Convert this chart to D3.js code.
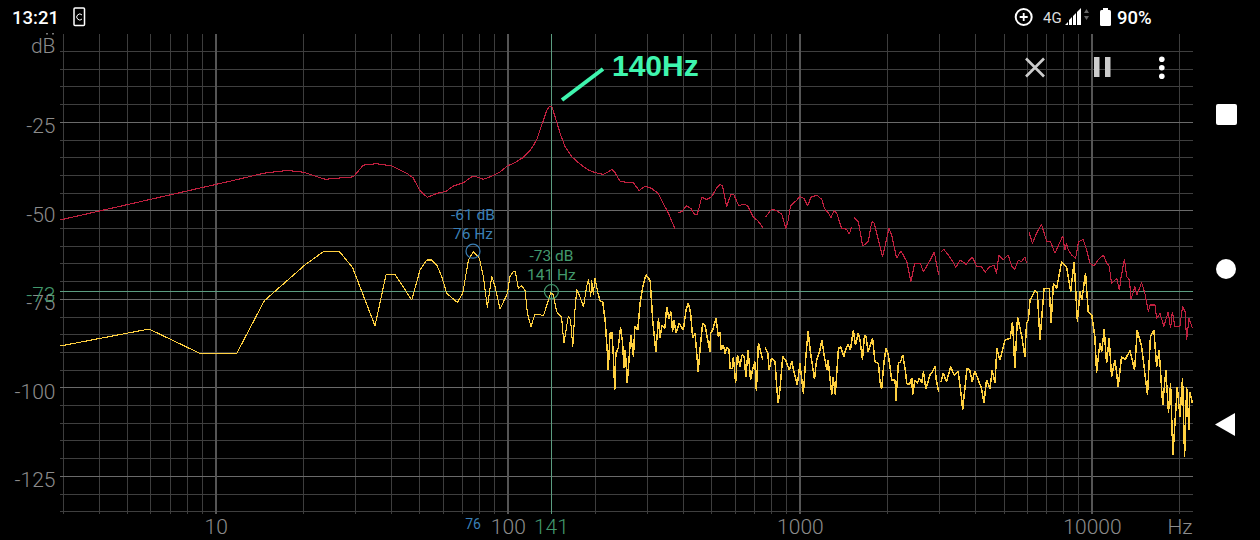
<!DOCTYPE html>
<html><head><meta charset="utf-8">
<script src="https://cdn.jsdelivr.net/npm/d3@7"></script>
<style>
html,body{margin:0;padding:0;background:#000;overflow:hidden}
svg{display:block;font-family:Roboto,sans-serif}
</style></head><body>
<svg id="c" width="1260" height="540"></svg>
<script>
// --- axis values ---
const decadeHz=[10,100,1000,10000];
const minorHz=[3,4,5,6,7,8,9,20,30,40,50,60,70,80,90,200,300,400,500,600,700,800,900,2000,3000,4000,5000,6000,7000,8000,9000,20000];
const majorDb=[-25,-50,-75,-100,-125];
const minorDb=[-5,-10,-15,-20,-30,-35,-40,-45,-55,-60,-65,-70,-80,-85,-90,-95,-105,-110,-115,-120,-130,-135];
const cursorA={hz:76,db:-61.4};
const cursorB={hz:141,db:-72.8};
const annotationText="140Hz";
// --- red trace (null = break in the trace) ---
const redHz=[2.93,12.1,14.56,17.5,20,23.7,29.6,32,35.6,40,45.1,47.4,50.06,53,57.1,61.4,65.1,70.4,75.2,78.2,82.5,88.1,94.1,99.7,105.9,113,119.1,125.6,130.6,135.9,138.7,141.6,144.9,151,157,165.5,176.6,188.8,198.6,212.3,220.8,227,232.8,241.9,255.3,269.2,281.5,295.1,310.6,327.3,340.4,354.8,365.6,373.6,378,
383.7,393.6,409.3,423,437.5,445.7,461.3,479.7,498.9,518.8,532.1,543,561,581,594,618,640,662,691.8,721,750,757,
764,800,832,866,895,912,929,975,1000,1033,1064,1089,1143,1189,1213,1253,1276,1309,1337,1371,1390,1445,1476,1503,1517,
1531,1585,1641,1714,1762,1795,1854,1919,2018,2061,2143,2218,2323,2399,2472,2582,2649,2773,2884,2985,3016,
3048,3112,3221,3311,3420,3532,3707,3890,4027,4188,4305,4436,4613,4710,4797,4966,5164,5309,5445,5598,5741,5888,5970,6025,
6081,6252,6457,6714,7000,7211,7464,7943,8072,8185,8299,8511,8790,8995,9333,9594,9840,10160,10530,10950,11220,11450,11670,12160,12410,12560,12910,13150,13430,13610,14030,14230,14790,15170,15600,15780,16440,16640,17100,17620,18240,18580,18840,19230,20000,20420,20830,21090,21480,22080];
const redDb=[-52.6,-41,-39.4,-38.6,-39.1,-41.1,-40.4,-37.1,-36.7,-37.3,-39.4,-40.7,-44.3,-46.2,-45.1,-44.5,-43,-42.1,-40.4,-40.4,-41.1,-40.2,-39,-37.3,-36.4,-34.9,-33,-30,-25.8,-21.7,-20.6,-20.6,-23.2,-28.1,-31.9,-34.7,-36.8,-38.5,-39.2,-39.7,-39,-38.3,-39.2,-41.6,-42,-42.1,-44.3,-43,-43.7,-45.1,-47.9,-50.7,-53.3,-55,null,
-50.4,-50.3,-48.6,-49.3,-51.2,-50.9,-46.2,-46.8,-46,-43.6,-42.5,-42.9,-48.8,-45.3,-45.5,-48.6,-48.1,-48.5,-51.7,-53,-55,null,
-51.7,-49.5,-50,-50.9,-55,-52.6,-48.6,-47,-46,-46.5,-48.6,-46.2,-45.6,-46.8,-49.3,-50.7,-52,-50,-50.7,-53.5,-55,-55.2,-56.6,-54.5,null,
-51.9,-53.1,-60,-58.7,-53.1,-53.4,-58.1,-63,-55,-56.8,-63.4,-61.3,-64.4,-70,-64.8,-64.8,-67.2,-64.4,-61.7,-68.1,null,
-61.5,-60.9,-62.5,-63.9,-66,-63.9,-65.1,-63,-65.6,-65.8,-67.4,-66,-65.3,-67.7,-62.5,-63.9,-62.5,-65.6,-66.5,-63.9,-64.4,-63,-64.7,null,
-55.9,-59.2,-56.4,-53.8,-58.7,-58.7,-62,-57.1,-61.1,-59.2,-61.1,-62.5,-63.4,-58.7,-58.1,-61.1,-64.8,-65.6,-63.7,-62.5,-64.8,-65.6,-70.5,-69.1,-72.4,-69.1,-63.6,-68.6,-69.5,-75,-71.4,-73.8,-70.3,-73.3,-78.5,-76.6,-76.6,-80.4,-79,-82.7,-78.5,-83.2,-78.5,-82.7,-82.7,-76.9,-78.5,-86.5,-80.4,-83.2];
// --- yellow trace, by frequency band (null = break in the trace) ---
const yellowLowHz=[2.93,5.91,8.84,11.8,14.67,20.2,23.4,26.5,29.4,35.1,38.3,41.1,46.9,50.06,52.8,54.9,57.1,59.4,61.8,67.2,70.1,73.3,76.2,79.9,82.5,85.1,88.1,90.4,94.1,99.7,101.7,104.5,106.2,108.6,111.5,114.5,116.7,120,123.9,128.2,132.4,140.3,143.2,146.9,152.8,155.6,161,164,166.9,169.8,172.2,176.6,181.6,186.2,188.8,192.3,193.6,196.3,198.6,204.2];
const yellowLowDb=[-88.2,-83.4,-90.3,-90.3,-75.4,-65.3,-61.5,-61.5,-66,-82.5,-68,-68,-75.2,-66.7,-63.9,-63.9,-65.3,-68.6,-73.3,-75.9,-73.3,-63.9,-61.5,-63.4,-68.6,-77.3,-68.4,-71.4,-77.8,-73.3,-68.6,-67.2,-67.3,-71.9,-71.2,-72.4,-79,-82.7,-79.2,-79.2,-79.7,-73.1,-73.8,-78.5,-80.1,-87.4,-79.9,-80.8,-88.4,-78,-72.2,-74.3,-77.1,-71.4,-69.4,-74.3,-69.5,-73.8,-68.9,-73.8];
const yellowMidHz=[206.8,211.3,215.3,219.3,220.8,223.9,227,229.6,232.3,234.4,238.8,243.2,247.2,250,252.4,256.4,263.6,269.2,272.3,278.6,283.8,289.7,297.2,307.2,313.3,321.1,328,331.9,337.3,345.1,349.9,356.4,362.2,366.4,370.7,376.7,386.4,399,407.4,415,422.7,429.5,437.5,448.7,454.9,464.5,473.2,479.8,492,494.3,502.3,516.4,526,533];
const yellowMidDb=[-75.4,-75.7,-80.8,-90.3,-95,-84.6,-84.4,-90.3,-100.6,-90.3,-88.8,-82.9,-87.4,-94.5,-89.3,-98.7,-85.1,-91.2,-82.7,-83.7,-76.1,-71.4,-68.1,-69.7,-80.8,-89.8,-80.4,-86,-82.3,-83.2,-77.1,-80.4,-78.5,-84.1,-80.8,-84.6,-81.8,-83.7,-78,-76.1,-79,-86,-84.6,-95.4,-89.3,-81.8,-82.3,-85.1,-89.8,-84.6,-83.7,-80.4,-85.6,-84.4];
const yellowKiloHz=[537,547,554.6,561,572,576.8,588.8,591.6,602.6,611,623.7,633.4,644.2,653,665,677.6,688,701,709.6,721,729.5,746.5,754,760.9,776.2,785,799,822,832.8,843,855,873,895,920,938,951,980,1000,1028,1050,1067,1084,1122,1140,1171,1189,1208,1236,1250,1285,1300,1322,1355,1380,1413,1439,1462,1489,1524,1549,1585];
const yellowKiloDb=[-89.3,-87.9,-90.3,-88.6,-89.3,-94.5,-94.5,-91.2,-98.7,-90.7,-94,-90.7,-91.2,-96.9,-89.3,-97.8,-95,-92.6,-100.8,-87.3,-88.9,-92.2,null,-88.6,-90.3,-95,-91.7,-92.6,-99.7,-104.4,-100.2,-91.2,-92.3,-95,-92.6,-95,-99.2,-93.1,-101.6,-90.3,-84.1,-89.3,-97.6,-92.2,-89.3,-86.5,-90.3,-95,-92.2,-102,-96.9,-102,-88.9,-88.4,-91.2,-88.9,-87.6,-89.3,-83.7,-87.9,-84.6];
const yellowUpperHz=[1607,1637,1663,1683,1711,1774,1807,1858,1880,1905,1941,1972,2009,2061,2118,2133,2173,2213,2249,2291,2323,2371,2415,2432,2477,2523,2564,2612,2649,2698,2786,2825,2904,2924,2985,3012,3041,3097,3177,3281,3373,3483,3581,3606,3733,3811,3890,3972,4083,4188,4266,4355,4477,4550,4656,4721,4842];
const yellowUpperDb=[-86.5,-92,-85.3,-85.3,-89.8,-86,-92.6,-93.1,-98.3,-100.4,-92.6,-88.9,-90.7,-97.8,-97.8,-103.6,-93.1,-92.6,-90.7,-94.5,-98.7,-99.2,-97.3,-102,-97.8,-98.7,-97.3,-98.7,-95.4,-100.4,-96.4,-95.9,-94,-97.3,-101.1,null,-98.3,-95.9,-98.3,-94,-96.4,-95.4,-103.5,-106.3,-94.5,-94.8,-98.3,-95.2,-97.8,-100.2,-104.4,-97.8,-100.2,-95,-98.7,-88.9,-92.2];
const yellowTopHz=[5035,5248,5346,5445,5559,5754,5888,5970,6053,6138,6383,6501,6637,6855,7145,7244,7379,7568,7870,8185,8453,8690,8913,9099,9226,9506,9705,9977,10230,10370,10640,10790,11010,11220,11450,11670,11990,12300,12620,12970,13490,13990,14290,14790,15170,15490,15850,16290,16640,16980,17460,17900,18280,18580,18920,19590,20000,20420,20750,21090,21480,21630,22080];
const yellowTopDb=[-86.5,-86,-81.3,-94.5,-79.9,-85.6,-91.2,-81.8,-80.8,-75.2,-72.6,-73.3,-86.5,-71.9,-71.9,-81.8,-70.5,-71.9,-64.4,-66,-72.8,-64.4,-81.3,-72.8,-75.2,-67.7,-78.5,-79.4,-85.6,-95.7,-87.4,-89.8,-83.5,-93.1,-86,-96.9,-92.1,-99.7,-91.2,-92.1,-89.5,-95,-83.7,-88.4,-95.9,-102,-85.6,-83.7,-94,-89.3,-104.9,-95,-107.2,-98.7,-119,-99.7,-108.2,-97.3,-119.5,-99.7,-111.9,-101.1,-104.4];

// --- scales ---
const x=d3.scaleLog().domain([3,22050]).range([63,1192.3]);
const y=d3.scaleLinear().domain([0,-135]).range([33.8,511.7]);
const svg=d3.select("#c");
svg.append("rect").attr("width",1260).attr("height",540).attr("fill","#000");
const gray="#8c8c8c", greenC="#43996d", blueC="#3a7fb5";
const txt=s=>String(s);

// grid through axes
function vgrid(vals,col,w){
  const g=svg.append("g").attr("transform","translate(0,514)")
    .call(d3.axisBottom(x).offset(0).tickValues(vals).tickSize(-480).tickFormat(""));
  g.select(".domain").remove();
  g.selectAll("line").attr("stroke",col).attr("stroke-width",w).attr("shape-rendering","crispEdges");
}
function hgrid(vals,col,w){
  const g=svg.append("g").attr("transform","translate(60,0)")
    .call(d3.axisLeft(y).offset(0).tickValues(vals).tickSize(-1133).tickFormat(""));
  g.select(".domain").remove();
  g.selectAll("line").attr("stroke",col).attr("stroke-width",w).attr("shape-rendering","crispEdges");
}
vgrid(minorHz,"#3d3d3d",1);
hgrid(minorDb,"#3f3f3f",1);
hgrid(majorDb,"#6a6a6a",1);
vgrid(decadeHz,"#555",2);

// tick labels through axes
const bottomAxis=svg.append("g").attr("transform","translate(0,514)")
  .call(d3.axisBottom(x).tickValues(decadeHz).tickSize(0).tickPadding(5.1).tickFormat(txt));
bottomAxis.select(".domain").remove();
bottomAxis.selectAll("text").attr("fill",gray).style("font-size","21px").style("font-family","Roboto").style("font-weight",300);
const leftAxis=svg.append("g").attr("transform","translate(55.5,0)")
  .call(d3.axisLeft(y).tickValues(majorDb).tickSize(0).tickPadding(0).tickFormat(txt));
leftAxis.select(".domain").remove();
leftAxis.selectAll("text").attr("dy","0.5em").attr("fill",gray).style("font-size","21px").style("font-family","Roboto").style("font-weight",300);
svg.append("text").attr("x",55.5).attr("y",53).attr("text-anchor","end").attr("fill",gray).style("font-size","21px").style("font-weight",300).text("dB");
svg.append("text").attr("x",1180).attr("y",534).attr("text-anchor","middle").attr("fill",gray).style("font-size","21px").style("font-weight",300).text("Hz");
[46,52].forEach(dx=>svg.append("rect").attr("x",dx).attr("y",33).attr("width",2).attr("height",1.5).attr("fill","#777"));

// cursor lines
svg.append("line").attr("x1",x(cursorB.hz)).attr("x2",x(cursorB.hz)).attr("y1",34).attr("y2",514).attr("stroke","#5b9c80").attr("stroke-width",1).attr("shape-rendering","crispEdges");
svg.append("line").attr("x1",60).attr("x2",1193).attr("y1",y(cursorB.db)).attr("y2",y(cursorB.db)).attr("stroke","#5b9c80").attr("stroke-width",1).attr("shape-rendering","crispEdges");

// traces
const line=d3.line().defined(d=>d[1]!==null).x(d=>x(d[0])).y(d=>y(d[1]));
const zip=(a,b)=>a.map((v,i)=>[v,b[i]]);
const yellowThin=zip(yellowLowHz,yellowLowDb);
const yellowDense=[].concat(yellowThin.slice(-1),zip(yellowMidHz,yellowMidDb),zip(yellowKiloHz,yellowKiloDb),zip(yellowUpperHz,yellowUpperDb),zip(yellowTopHz,yellowTopDb));
svg.append("path").attr("d",line(zip(redHz,redDb))).attr("fill","none").attr("stroke","#c0203f").attr("stroke-width",1.1).attr("stroke-linejoin","bevel").attr("shape-rendering","crispEdges");
svg.append("path").attr("d",line(yellowThin)).attr("fill","none").attr("stroke","#ffd040").attr("stroke-width",1.1).attr("stroke-linejoin","bevel").attr("shape-rendering","crispEdges");
svg.append("path").attr("d",line(yellowDense)).attr("fill","none").attr("stroke","#ffd040").attr("stroke-width",1.5).attr("stroke-linejoin","bevel").attr("shape-rendering","crispEdges");

// cursor markers
[[cursorA,blueC],[cursorB,greenC]].forEach(([c,col])=>{
  const cx=x(c.hz),cy=y(c.db);
  svg.append("circle").attr("cx",cx).attr("cy",cy).attr("r",7).attr("fill","none").attr("stroke",col).attr("stroke-width",1.2);
  svg.append("text").attr("x",cx).attr("y",cy-31).attr("text-anchor","middle").attr("fill",col).style("font-size","15.5px").text(Math.round(c.db)+" dB");
  svg.append("text").attr("x",cx).attr("y",cy-12).attr("text-anchor","middle").attr("fill",col).style("font-size","15.5px").text(c.hz+" Hz");
});
svg.append("text").attr("x",55.5).attr("y",y(cursorB.db)+10).attr("text-anchor","end").attr("fill",greenC).style("font-size","21px").style("font-weight",300).text(Math.round(cursorB.db));
svg.append("text").attr("x",x(cursorA.hz)).attr("y",529).attr("text-anchor","middle").attr("fill",blueC).style("font-size","14px").text(cursorA.hz);
svg.append("text").attr("x",x(cursorB.hz)).attr("y",534).attr("text-anchor","middle").attr("fill",greenC).style("font-size","21px").style("font-weight",300).text(cursorB.hz);

// annotation
svg.append("line").attr("x1",562).attr("y1",100).attr("x2",603).attr("y2",69).attr("stroke","#3ff5ae").attr("stroke-width",4);
svg.append("text").attr("x",612).attr("y",76).attr("fill","#3ff5ae").style("font-size","30px").style("font-weight",700).style("font-family","'Liberation Sans',Arial,sans-serif").text(annotationText);

// app controls
const ctl=svg.append("g");
ctl.append("path").attr("d","M1026 58.5L1044 76.5M1044 58.5L1026 76.5").attr("stroke","#ccc").attr("stroke-width",2.6).attr("fill","none");
ctl.append("rect").attr("x",1094).attr("y",57).attr("width",5.5).attr("height",20).attr("fill","#ccc");
ctl.append("rect").attr("x",1105).attr("y",57).attr("width",5.5).attr("height",20).attr("fill","#ccc");
[59.3,67.7,76.3].forEach(cy=>ctl.append("circle").attr("cx",1161.8).attr("cy",cy).attr("r",2.8).attr("fill","#fff"));

// status bar
const st=svg.append("g");
st.append("text").attr("x",12).attr("y",24).attr("fill","#fff").style("font-size","18.5px").style("font-weight",500).text("13:21");
st.append("rect").attr("x",74).attr("y",8).attr("width",10.5).attr("height",17.5).attr("rx",1).attr("fill","none").attr("stroke","#fff").attr("stroke-width",1.5);
st.append("path").attr("d","M82 15a3 3 0 1 0 0 4").attr("fill","none").attr("stroke","#fff").attr("stroke-width",1);
st.append("circle").attr("cx",1023.7).attr("cy",17).attr("r",8).attr("fill","none").attr("stroke","#fff").attr("stroke-width",2);
st.append("path").attr("d","M1023.7 13v8M1019.7 17h8").attr("stroke","#fff").attr("stroke-width",1.8);
st.append("text").attr("x",1043).attr("y",23).attr("fill","#ddd").style("font-size","15px").text("4G");
st.append("path").attr("d","M1065 25l3-3v3zM1069 25v-5l3-3v8zM1073 25v-9l3-3v12zM1077 25v-13l4-4v17z").attr("fill","#fff");
st.append("path").attr("d","M1084 13l2.5-4 2.5 4zM1084 16l2.5 4 2.5-4z").attr("fill","#666");
st.append("rect").attr("x",1100).attr("y",10).attr("width",11).attr("height",16).attr("rx",1.5).attr("fill","#fff");
st.append("rect").attr("x",1103).attr("y",8).attr("width",5).attr("height",2).attr("fill","#fff");
st.append("text").attr("x",1117).attr("y",24).attr("fill","#fff").style("font-size","18.5px").style("font-weight",500).text("90%");

// navigation bar
const nav=svg.append("g");
nav.append("rect").attr("x",1216).attr("y",104).attr("width",21).attr("height",21).attr("rx",2).attr("fill","#fff");
nav.append("circle").attr("cx",1226).attr("cy",269).attr("r",10).attr("fill","#fff");
nav.append("path").attr("d","M1215 424.5L1235 413V436Z").attr("fill","#fff");
</script>
</body></html>
